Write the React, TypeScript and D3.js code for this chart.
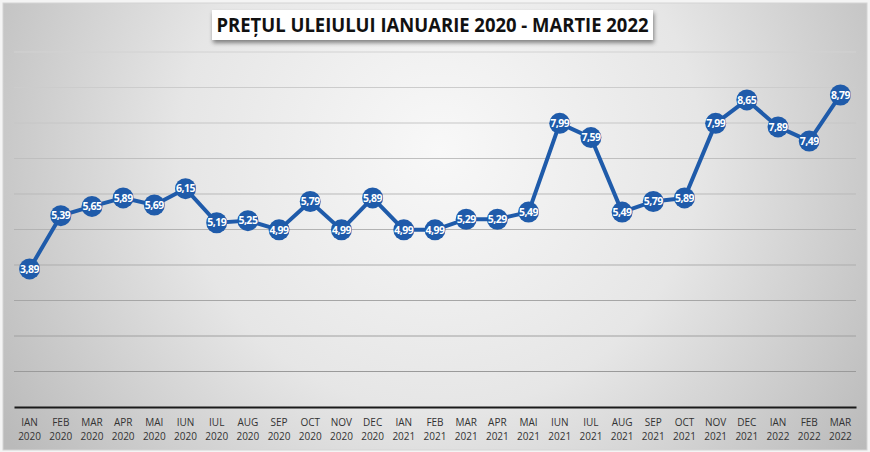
import React, { useEffect, useRef } from 'react'
import * as d3 from 'd3'

const months = [
  'IAN', 'FEB', 'MAR', 'APR', 'MAI', 'IUN', 'IUL', 'AUG', 'SEP', 'OCT', 'NOV', 'DEC',
  'IAN', 'FEB', 'MAR', 'APR', 'MAI', 'IUN', 'IUL', 'AUG', 'SEP', 'OCT', 'NOV', 'DEC',
  'IAN', 'FEB', 'MAR',
]
const years = [
  '2020', '2020', '2020', '2020', '2020', '2020', '2020', '2020', '2020', '2020', '2020', '2020',
  '2021', '2021', '2021', '2021', '2021', '2021', '2021', '2021', '2021', '2021', '2021', '2021',
  '2022', '2022', '2022',
]
const prices = [
  3.89, 5.39, 5.65, 5.89, 5.69, 6.15, 5.19, 5.25, 4.99, 5.79, 4.99, 5.89,
  4.99, 4.99, 5.29, 5.29, 5.49, 7.99, 7.59, 5.49, 5.79, 5.89, 7.99, 8.65,
  7.89, 7.49, 8.79,
]
const yTicks = [1, 2, 3, 4, 5, 6, 7, 8, 9, 10]
const title = 'PREȚUL ULEIULUI IANUARIE 2020 - MARTIE 2022'

const BLUE = '#1f5baa'

const App: React.FC = () => {
  const svgRef = useRef<SVGSVGElement | null>(null)

  useEffect(() => {
    if (!svgRef.current) return
    const svg = d3.select(svgRef.current)
    svg.selectAll('*').remove()
    const width = 870
    const height = 452
    const margin = { top: 52, right: 14, bottom: 45, left: 14 }

    const defs = svg.append('defs')
    const grad = defs
      .append('radialGradient')
      .attr('id', 'bg')
      .attr('gradientUnits', 'userSpaceOnUse')
      .attr('cx', 440)
      .attr('cy', 150)
      .attr('r', 520)
    grad.append('stop').attr('offset', '0%').attr('stop-color', '#f8f8f8')
    grad.append('stop').attr('offset', '50%').attr('stop-color', '#e6e6e6')
    grad.append('stop').attr('offset', '100%').attr('stop-color', '#bababa')

    const shadow = defs.append('filter').attr('id', 'shadow').attr('x', '-10%').attr('y', '-30%').attr('width', '120%').attr('height', '180%')
    shadow
      .append('feDropShadow')
      .attr('dx', 1)
      .attr('dy', 3)
      .attr('stdDeviation', 2)
      .attr('flood-color', '#000')
      .attr('flood-opacity', 0.45)

    svg.append('rect').attr('width', width).attr('height', height).attr('fill', '#f4f4f4')
    svg
      .append('rect')
      .attr('x', 3)
      .attr('y', 3)
      .attr('width', width - 6)
      .attr('height', height - 5)
      .attr('fill', 'url(#bg)')
      .attr('stroke', '#d4d4d4')

    const x = d3
      .scaleBand()
      .domain(prices.map((_, i) => String(i)))
      .range([margin.left, width - margin.right])
    const y = d3
      .scaleLinear()
      .domain([0, 10])
      .range([height - margin.bottom, margin.top])
    const gridColor = d3.scaleLinear<string>().domain([1, 10]).range(['#9a9a9a', '#d2d2d2'])

    // grid
    svg
      .append('g')
      .selectAll('line')
      .data(yTicks)
      .join('line')
      .attr('x1', margin.left)
      .attr('x2', width - margin.right)
      .attr('y1', d => y(d))
      .attr('y2', d => y(d))
      .attr('stroke', d => gridColor(d))
      .attr('stroke-width', 1)

    // axis
    const axis = svg
      .append('g')
      .attr('transform', `translate(0,${y(0)})`)
      .call(d3.axisBottom(x).tickSize(0).tickFormat(() => ''))
    axis.select('.domain').attr('stroke', '#1a1a1a').attr('stroke-width', 2)

    const labels = svg
      .append('g')
      .attr('font-family', 'Open Sans, sans-serif')
      .attr('font-size', 10)
      .attr('fill', '#333')
      .attr('text-anchor', 'middle')
    labels
      .selectAll('text.m')
      .data(months)
      .join('text')
      .attr('class', 'm')
      .attr('x', (_, i) => x(String(i))! + x.bandwidth() / 2)
      .attr('y', 426)
      .text(d => d)
    labels
      .selectAll('text.yr')
      .data(years)
      .join('text')
      .attr('class', 'yr')
      .attr('x', (_, i) => x(String(i))! + x.bandwidth() / 2)
      .attr('y', 440)
      .text(d => d)

    const cx = (i: number) => x(String(i))! + x.bandwidth() / 2
    const line = d3
      .line<number>()
      .x((_, i) => cx(i))
      .y(d => y(d))

    svg
      .append('path')
      .datum(prices)
      .attr('d', line)
      .attr('fill', 'none')
      .attr('stroke', BLUE)
      .attr('stroke-width', 4)
      .attr('stroke-linejoin', 'round')

    const pts = svg.append('g')
    pts
      .selectAll('circle')
      .data(prices)
      .join('circle')
      .attr('cx', (_, i) => cx(i))
      .attr('cy', d => y(d))
      .attr('r', 10.5)
      .attr('fill', BLUE)
    pts
      .selectAll('text')
      .data(prices)
      .join('text')
      .attr('x', (_, i) => cx(i))
      .attr('y', d => y(d))
      .attr('dy', '0.35em')
      .attr('text-anchor', 'middle')
      .attr('font-family', 'Open Sans, sans-serif')
      .attr('font-weight', 700)
      .attr('font-size', 10.5)
      .attr('letter-spacing', -0.5)
      .attr('fill', '#fff')
      .text(d => d.toFixed(2).replace('.', ','))

    // title
    const tg = svg.append('g')
    tg.append('rect')
      .attr('x', 212)
      .attr('y', 10)
      .attr('width', 441)
      .attr('height', 30)
      .attr('fill', '#fff')
      .attr('filter', 'url(#shadow)')
    tg.append('text')
      .attr('x', 432.5)
      .attr('y', 32)
      .attr('text-anchor', 'middle')
      .attr('font-family', 'Open Sans, sans-serif')
      .attr('font-weight', 700)
      .attr('font-size', 19)
      .attr('textLength', 432)
      .attr('lengthAdjust', 'spacingAndGlyphs')
      .attr('fill', '#111')
      .text(title)
  }, [])

  return (
    <svg
      ref={svgRef}
      width={870}
      height={452}
      style={{ position: 'absolute', left: 0, top: 0, display: 'block' }}
    />
  )
}

export default App
